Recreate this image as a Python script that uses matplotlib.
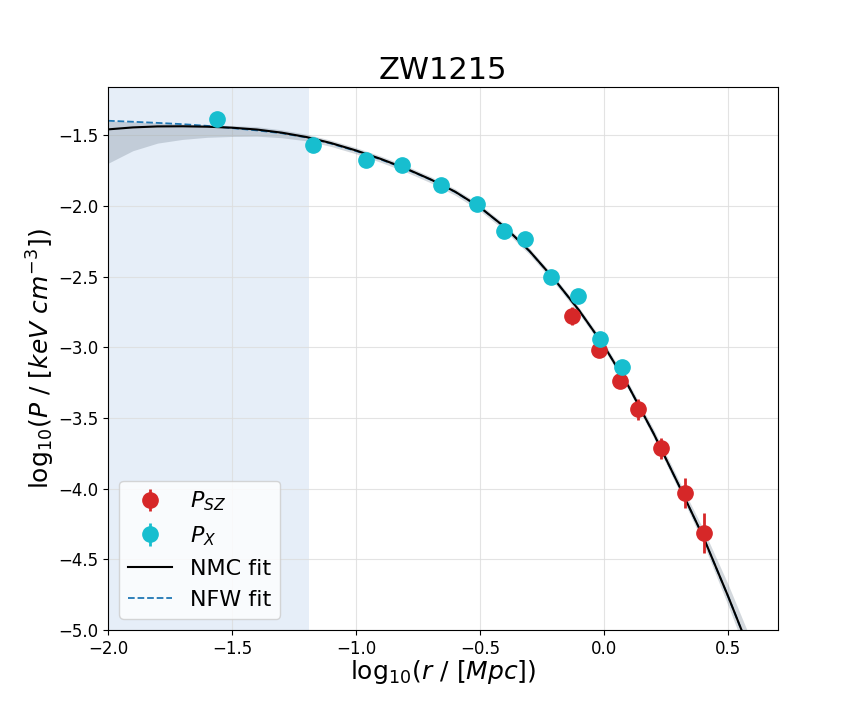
import matplotlib
matplotlib.use("Agg")
import matplotlib.pyplot as plt
import numpy as np

# Data: SZ pressure points
sz_x = [-0.128, -0.020, 0.066, 0.139, 0.230, 0.328, 0.403]
sz_y = [-2.779, -3.022, -3.239, -3.439, -3.715, -4.033, -4.316]
sz_err = [0.065, 0.03, 0.05, 0.074, 0.074, 0.106, 0.141]

# X-ray pressure points
x_x = [-1.560, -1.173, -0.960, -0.815, -0.657, -0.512, -0.403, -0.319, -0.214, -0.105, -0.016, 0.073]
x_y = [-1.386, -1.570, -1.676, -1.711, -1.853, -1.987, -2.178, -2.235, -2.504, -2.638, -2.942, -3.140]
x_err = [0.02, 0.02, 0.02, 0.02, 0.02, 0.02, 0.02, 0.02, 0.02, 0.02, 0.02, 0.02]

# Fit curves
fit_x = [-2.0, -1.9, -1.8, -1.7, -1.6, -1.5, -1.4, -1.3, -1.2, -1.1, -1.0, -0.9, -0.8,
         -0.7, -0.6, -0.5, -0.4, -0.3, -0.2, -0.1, 0.0, 0.1, 0.2, 0.3, 0.4, 0.5, 0.6]
nmc_y = [-1.459, -1.445, -1.438, -1.437, -1.440, -1.447, -1.460, -1.482, -1.513, -1.556,
         -1.608, -1.668, -1.735, -1.812, -1.900, -2.010, -2.150, -2.320, -2.520, -2.740,
         -2.990, -3.280, -3.610, -3.970, -4.340, -4.760, -5.200]
nfw_y = [-1.398, -1.405, -1.413, -1.422, -1.434, -1.450, -1.466, -1.486, -1.516, -1.560,
         -1.612, -1.672, -1.738, -1.814, -1.902, -2.011, -2.151, -2.321, -2.521, -2.741,
         -2.991, -3.281, -3.611, -3.971, -4.341, -4.761, -5.201]
band_lo = [-1.699, -1.610, -1.556, -1.530, -1.515, -1.509, -1.507, -1.518, -1.540, -1.580,
           -1.632, -1.692, -1.759, -1.836, -1.925, -2.035, -2.175, -2.345, -2.545, -2.765,
           -3.015, -3.305, -3.640, -4.005, -4.385, -4.825, -5.280]
band_hi = [-1.399, -1.405, -1.413, -1.421, -1.428, -1.432, -1.440, -1.462, -1.493, -1.536,
           -1.588, -1.648, -1.715, -1.792, -1.880, -1.990, -2.130, -2.300, -2.500, -2.720,
           -2.967, -3.255, -3.580, -3.935, -4.285, -4.675, -5.100]

shade_range = [-2.0, -1.19]

fig = plt.figure(figsize=(8.64, 7.2), dpi=100)
ax = fig.add_axes([0.125, 0.125, 0.775, 0.754])

ax.axvspan(shade_range[0], shade_range[1], color='#e6eef8', lw=0, zorder=0)
ax.fill_between(fit_x, band_lo, band_hi, color='slategray', alpha=0.3, lw=0, zorder=1)
ax.plot(fit_x, nfw_y, ls='--', color='#1f77b4', lw=1.3, label='NFW fit', zorder=2)
ax.plot(fit_x, nmc_y, ls='-', color='black', lw=1.5, label='NMC fit', zorder=3)

ax.errorbar(sz_x, sz_y, yerr=sz_err, fmt='o', color='#d62728', ms=11, elinewidth=2,
            capsize=0, label=r'$P_{SZ}$', zorder=4)
ax.errorbar(x_x, x_y, yerr=x_err, fmt='o', color='#17becf', ms=11, elinewidth=2,
            capsize=0, label=r'$P_{X}$', zorder=5)

ax.set_xlim(-2.0, 0.7)
ax.set_ylim(-5.0, -1.16)
ax.set_xticks([-2.0, -1.5, -1.0, -0.5, 0.0, 0.5])
ax.set_yticks([-5.0, -4.5, -4.0, -3.5, -3.0, -2.5, -2.0, -1.5])
ax.tick_params(labelsize=12)
ax.grid(True, color='#dddddd', lw=0.8, alpha=0.8)
ax.set_axisbelow(True)

ax.set_xlabel(r'$\mathrm{log}_{10}(r\ /\ [Mpc])$', fontsize=18, labelpad=0.5)
ax.set_ylabel(r'$\mathrm{log}_{10}(P\ /\ [keV\ cm^{-3}])$', fontsize=18, labelpad=0.5)
ax.set_title('ZW1215', fontsize=22)

h, l = ax.get_legend_handles_labels()
order = [l.index(r'$P_{SZ}$'), l.index(r'$P_{X}$'), l.index('NMC fit'), l.index('NFW fit')]
ax.legend([h[i] for i in order], [l[i] for i in order], loc='lower left', fontsize=16)

fig.savefig('out.png', dpi=100)
